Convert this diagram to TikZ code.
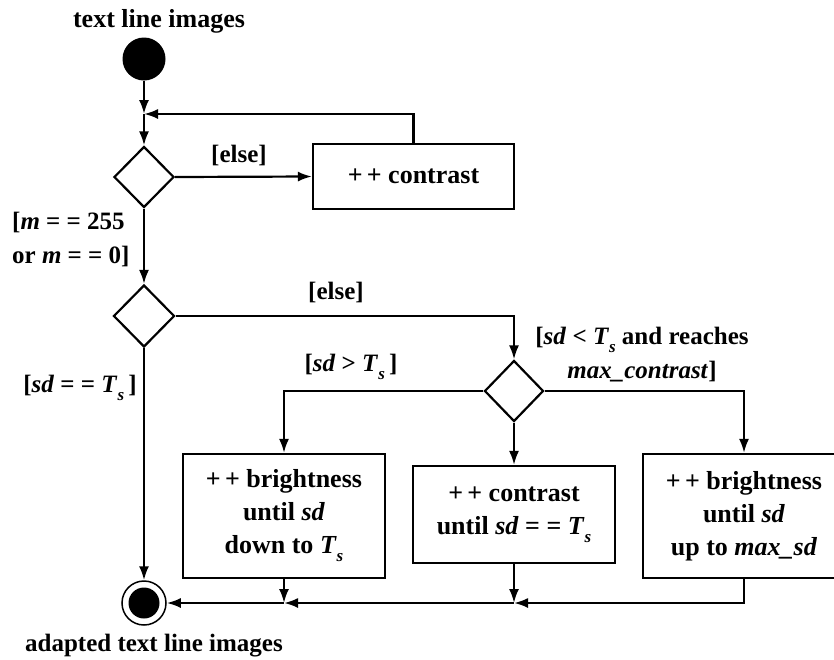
\documentclass[tikz,border=0pt]{standalone}
\usepackage{fontspec}
\setmainfont{Liberation Serif}
\usetikzlibrary{shapes.geometric,arrows.meta}
\newcommand\Ts{\textit{T}\raisebox{-8pt}{\fontsize{17}{17}\selectfont\textit{s}}}
\begin{document}
\begin{tikzpicture}[x=1pt,y=-1pt,
  lbl/.style={font=\fontsize{25}{34}\selectfont\bfseries, inner sep=0pt},
  box/.style={draw, line width=2.2pt, rectangle, align=center, font=\fontsize{26}{33}\selectfont\bfseries, inner sep=0pt},
  dia/.style={draw, line width=2.2pt, diamond, inner sep=0pt},
  arr/.style={line width=2.2pt, -{Latex[length=14pt,width=10pt]}}]
\useasboundingbox (0,0) rectangle (834,659);
% nodes
\node[lbl, font=\fontsize{26}{34}\selectfont\bfseries] (title) at (159,21) {text line images};
\node[circle, fill=black, minimum size=43pt, inner sep=0pt] (start) at (144,59) {};
\coordinate (merge1) at (144,114);
\node[dia, minimum width=60pt, minimum height=61pt] (d1) at (144,177) {};
\node[box, minimum width=201pt, minimum height=65pt] (box1) at (413.5,176.5) {+\,+ contrast};
\node[lbl] (else1) at (239,155) {[else]};
\node[lbl, anchor=north west, align=left] (condm) at (12,212) {[\textit{m} = = 255\\or \textit{m} = = 0]};
\node[dia, minimum width=61pt, minimum height=62pt] (d2) at (144,316) {};
\node[lbl] (else2) at (336,292) {[else]};
\node[dia, minimum width=59pt, minimum height=61pt] (d3) at (514,391) {};
\node[lbl, align=center] (condlt) at (642,355) {[\textit{sd} < \Ts{} and reaches\\\textit{max\_contrast}]};
\node[lbl] (condgt) at (351,367) {[\textit{sd} > \Ts\,]};
\node[lbl] (condeq) at (80,388) {[\textit{sd} = = \Ts\,]};
\node[box, minimum width=202pt, minimum height=124pt] (boxA) at (284,516) {+\,+ brightness\\until \textit{sd}\\down to \Ts};
\node[box, minimum width=202pt, minimum height=97pt] (boxB) at (514,514.5) {+\,+ contrast\\until \textit{sd} = = \Ts};
\node[box, minimum width=202pt, minimum height=124pt] (boxC) at (744,516) {+\,+ brightness\\until \textit{sd}\\up to \textit{max\_sd}};
\node[circle, draw, line width=1.5pt, minimum size=44pt, inner sep=0pt] (end) at (144,603) {};
\node[circle, fill=black, minimum size=31pt, inner sep=0pt] (endin) at (144,603) {};
\node[lbl] (endlbl) at (154,646) {adapted text line images};
\coordinate (mA) at (284,603);
\coordinate (mB) at (514,603);
% connectors
\draw[arr] (start) -- (merge1);
\draw[arr] (box1.north) |- (merge1);
\draw[arr] (merge1) -- (d1.north);
\draw[arr] (d1.east) -- (box1.west);
\draw[arr] (d1.south) -- (d2.north);
\draw[arr] (d2.east) -| (d3.north);
\draw[arr] (d3.west) -| (boxA.north);
\draw[arr] (d3.south) -- (boxB.north);
\draw[arr] (d3.east) -| (boxC.north);
\draw[arr] (d2.south) -- (end.north);
\draw[arr] (boxA.south) -- (mA);
\draw[arr] (boxB.south) -- (mB);
\draw[arr] (boxC.south) |- (mB);
\draw[arr] (mB) -- (mA);
\draw[arr] (mA) -- (end.east);
\end{tikzpicture}
\end{document}
